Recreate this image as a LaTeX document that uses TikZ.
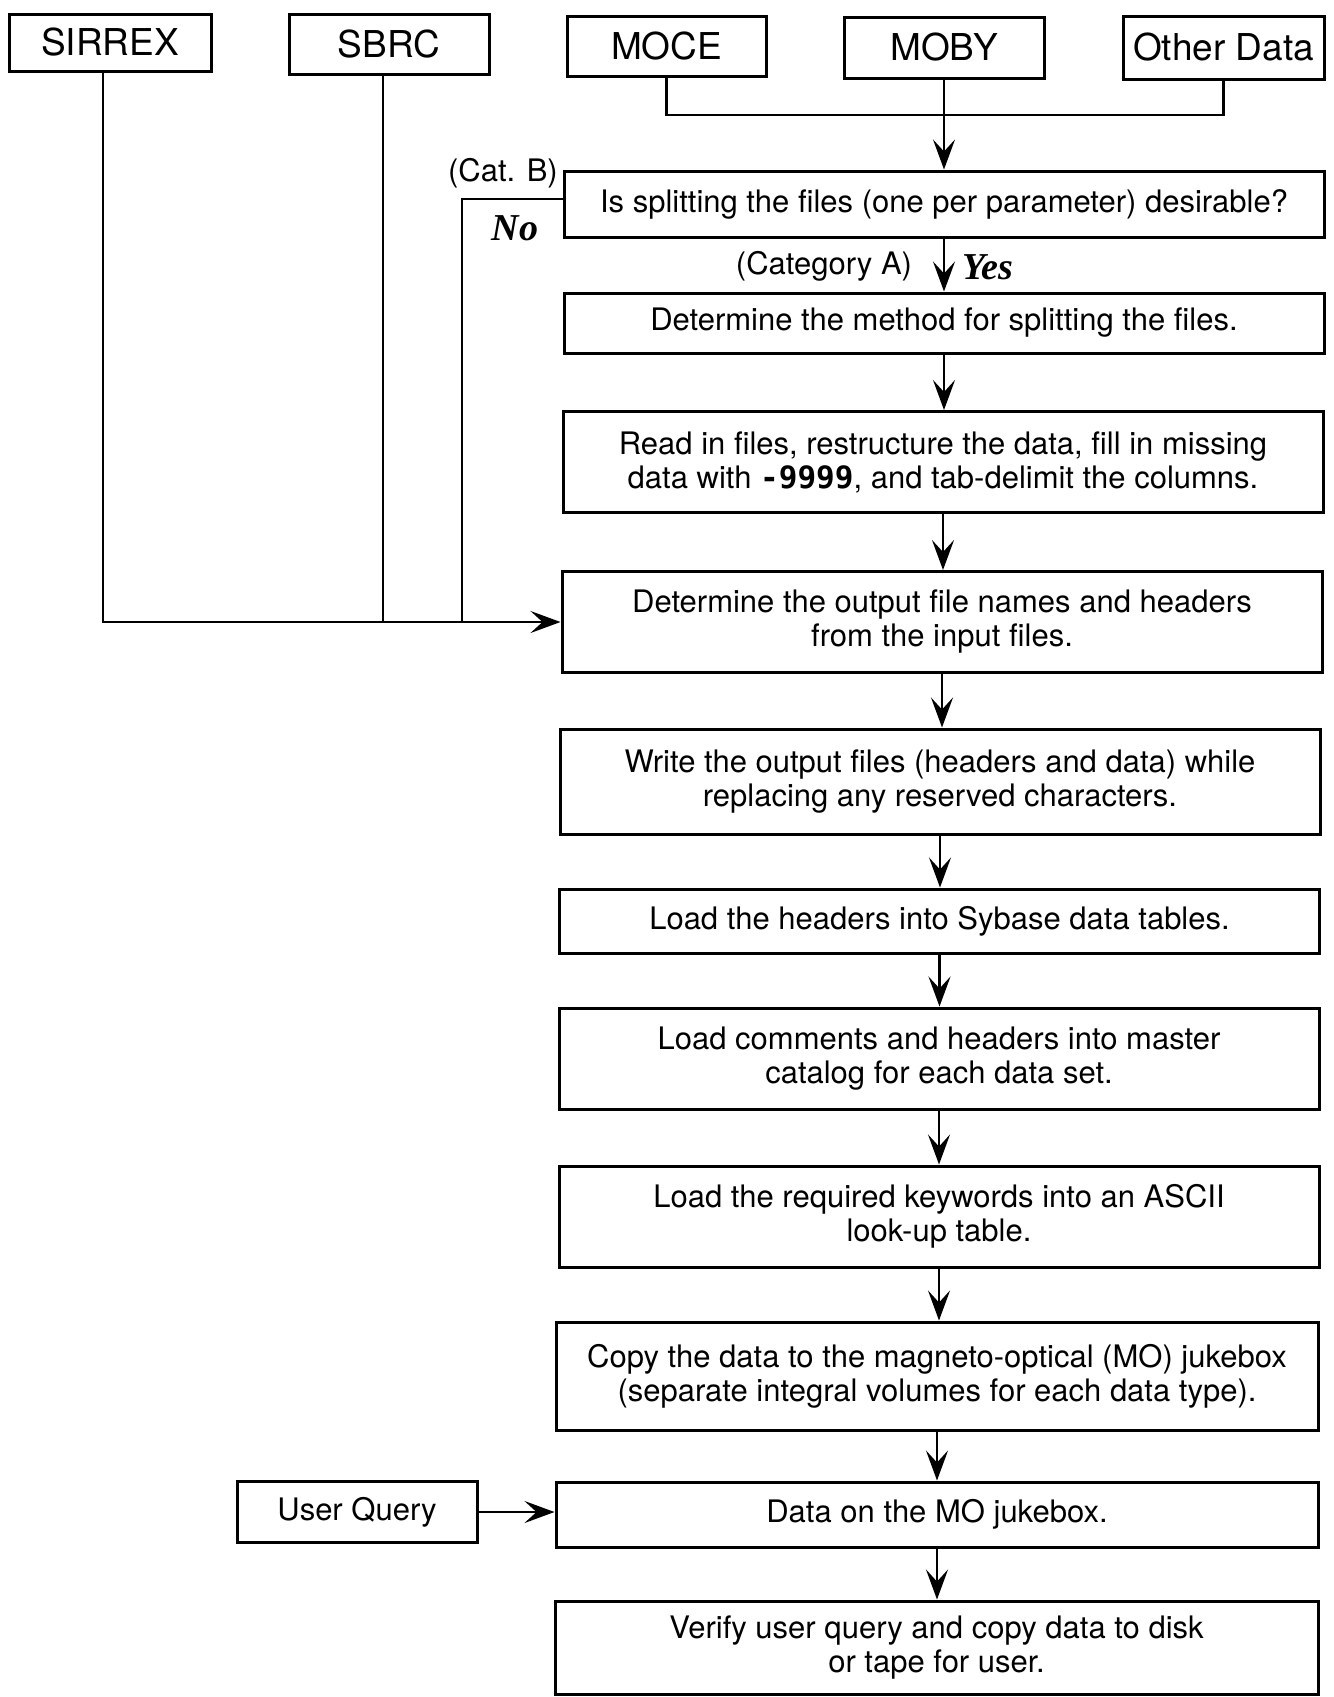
\documentclass[tikz,border=0pt]{standalone}
\usepackage{fontspec}
\setmainfont{TeX Gyre Heros}
\setmonofont{DejaVu Sans Mono}
\newfontfamily\serifbi{Liberation Serif}
\usetikzlibrary{arrows.meta}
\tikzset{
  box/.style={draw, line width=1.5pt, align=center, inner sep=0pt, minimum width=380pt,
    font=\fontsize{15.5}{17}\selectfont},
  src/.style={draw, line width=1.5pt, inner sep=0pt, font=\fontsize{18.5}{20}\selectfont},
  conn/.style={line width=1.2pt},
  arr/.style={conn, -{Stealth[length=15pt,width=11pt,inset=6pt]}},
  lab/.style={inner sep=0pt, font=\fontsize{15.5}{17}\selectfont},
  yn/.style={inner sep=0pt, font=\fontsize{19}{21}\serifbi\bfseries\itshape}
}
\begin{document}
\begin{tikzpicture}[x=0.5pt,y=-0.5pt]
\useasboundingbox (0,0) rectangle (1333,1697);
% source boxes
\node[src, minimum width=101pt, minimum height=28.5pt] (sirrex) at (110,42.5) {SIRREX};
\node[src, minimum width=100pt, minimum height=30pt] (sbrc) at (389,44) {SBRC};
\node[src, minimum width=99.5pt, minimum height=30pt] (moce) at (666.5,46) {MOCE};
\node[src, minimum width=100pt, minimum height=30.5pt] (moby) at (944,47.5) {MOBY};
\node[src, minimum width=100.5pt, minimum height=31.5pt] (oth) at (1223.5,47.5) {Other Data};
% flow boxes
\node[box, minimum height=33pt] (dec) at (944,204) {Is splitting the files (one per parameter) desirable?};
\node[box, minimum height=30pt] (meth) at (944,323) {Determine the method for splitting the files.};
\node[box, minimum height=50.5pt] (read) at (943,462) {Read in files, restructure the data, fill in missing\\data with {\ttfamily\bfseries -9999}, and tab-delimit the columns.};
\node[box, minimum height=50.5pt] (out) at (942,622) {Determine the output file names and headers\\from the input files.};
\node[box, minimum height=52.5pt] (write) at (940,781.5) {Write the output files (headers and data) while\\replacing any reserved characters.};
\node[box, minimum height=32pt] (hdr) at (939.5,921) {Load the headers into Sybase data tables.};
\node[box, minimum height=50.5pt] (cmt) at (939,1058.5) {Load comments and headers into master\\catalog for each data set.};
\node[box, minimum height=50.5pt] (kw) at (939,1216.5) {Load the required keywords into an ASCII\\look-up table.};
\node[box, minimum height=54pt, minimum width=381pt] (copy) at (937,1376) {Copy the data to the magneto-optical (MO) jukebox\\(separate integral volumes for each data type).};
\node[box, minimum height=32.5pt, minimum width=381pt] (mo) at (937,1514.5) {Data on the MO jukebox.};
\node[box, minimum height=46.5pt, minimum width=381.5pt] (ver) at (936.5,1647.5) {Verify user query and copy data to disk\\or tape for user.};
\node[box, minimum width=120pt, minimum height=30.5pt] (uq) at (357,1512) {User Query};
% labels
\node[lab] (catb) at (503,173) {(Cat. B)};
\node[yn] (no) at (515,228) {No};
\node[lab] (cata) at (824,266) {(Category A)};
\node[yn] (yes) at (988,267) {Yes};
% connectors
\coordinate (mj) at (944,115);
\coordinate (nb) at (462,199);
\coordinate (sd) at (103,71);
\coordinate (bd) at (383,74);
\draw[conn] (moce.south) |- (mj) -| (oth.south);
\draw[arr] (moby.south) -- (dec.north);
\draw[arr] (sirrex.south -| sd) |- (out.west);
\draw[conn] (sbrc.south -| bd) -- (bd |- out.west);
\draw[conn] (dec.west |- nb) -- (nb) -- (nb |- out.west);
\draw[arr] (dec.south) -- (dec.south |- meth.north);
\draw[arr] (meth.south) -- (meth.south |- read.north);
\draw[arr] (read.south) -- (read.south |- out.north);
\draw[arr] (out.south) -- (out.south |- write.north);
\draw[arr] (write.south) -- (write.south |- hdr.north);
\draw[arr] (hdr.south) -- (hdr.south |- cmt.north);
\draw[arr] (cmt.south) -- (cmt.south |- kw.north);
\draw[arr] (kw.south) -- (kw.south |- copy.north);
\draw[arr] (copy.south) -- (copy.south |- mo.north);
\draw[arr] (mo.south) -- (mo.south |- ver.north);
\draw[arr] (uq.east) -- (uq.east -| mo.west);
\end{tikzpicture}
\end{document}
